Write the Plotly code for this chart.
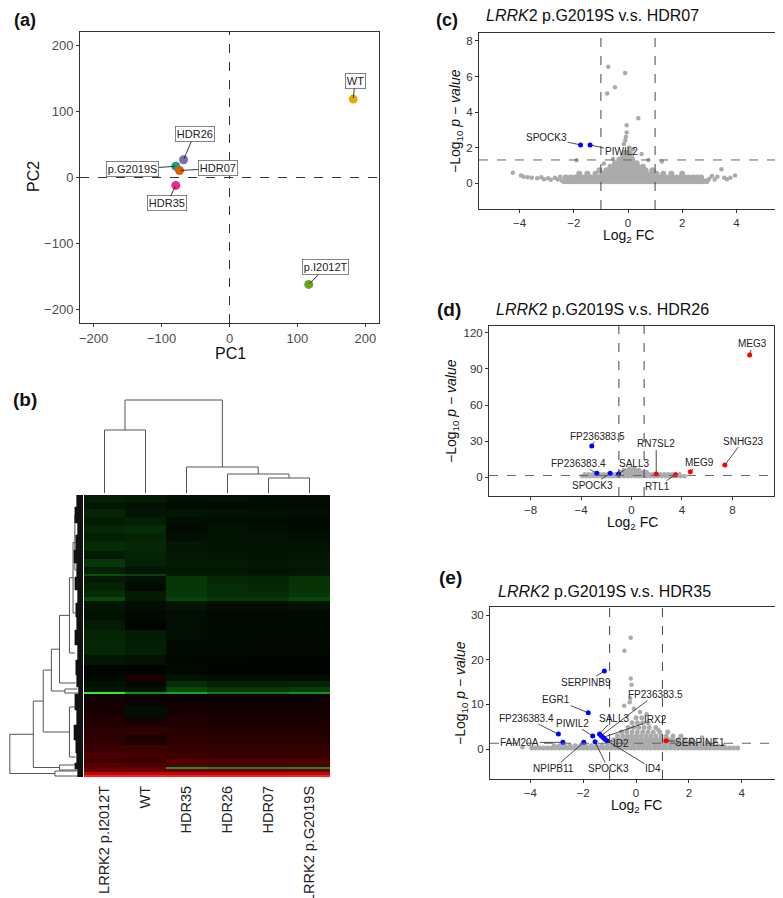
import math
import plotly.graph_objects as go

W, H = 783, 898
OFF = 8  # the page body margin shifts the figure; coordinates below are page pixels
FONT = "Liberation Sans, Arial, sans-serif"

# ---------------- (a) PCA data ----------------
pca_samples = ["p.G2019S", "HDR07", "HDR26", "HDR35", "WT", "p.I2012T"]
pca_pc1 = [-79, -73.5, -67.6, -79, 182, 116.6]
pca_pc2 = [17, 10.6, 26.8, -12, 118.6, -161.7]
pca_ticks = [-200, -100, 0, 100, 200]

# ---------------- (b) heatmap data ----------------
hm_samples = ["LRRK2 p.I2012T", "WT", "HDR35", "HDR26", "HDR07", "LRRK2 p.G2019S"]
hm_row_edges = [0, 8, 14, 22, 30, 38, 46, 56, 64, 72, 79, 81, 88, 96, 102, 106, 115, 125, 135, 145,
                160, 170, 180, 186, 192, 197, 199, 210, 222, 232, 240, 250, 258, 264, 268, 272, 274,
                277, 280, 282]
hm_I2012T = [-0.18, -0.12, -0.2, -0.15, -0.22, -0.18, -0.25, -0.15, -0.3, -0.18, -0.45, -0.15, -0.2,
             -0.25, -0.4, -0.12, -0.1, -0.15, -0.2, -0.22, -0.12, -0.03, -0.05, -0.1, -0.12, -0.95,
             0.08, 0.1, 0.15, 0.18, 0.2, 0.25, 0.32, 0.26, 0.38, 0.42, 0.48, 0.75, 1]
hm_WT = [-0.15, -0.1, -0.12, -0.18, -0.25, -0.2, -0.22, -0.2, -0.18, -0.12, -0.35, -0.1, -0.05,
         -0.15, -0.15, -0.08, -0.05, -0.02, -0.15, -0.18, -0.1, -0.02, 0.12, -0.05, -0.1, -0.7,
         0.05, -0.08, 0.1, 0.2, 0.12, 0.26, 0.3, 0.25, 0.34, 0.42, 0.48, 0.75, 1]
hm_HDR35 = [-0.1, -0.06, -0.12, -0.08, -0.06, -0.08, -0.12, -0.14, -0.15, -0.12, -0.15, -0.3, -0.3,
            -0.3, -0.38, -0.12, -0.08, -0.08, -0.08, -0.06, -0.04, -0.05, -0.1, -0.25, -0.4, -0.75,
            0.06, 0.1, 0.13, 0.17, 0.19, 0.23, 0.27, 0.38, 0.33, -0.72, 0.48, 0.75, 1]
hm_HDR26 = [-0.1, -0.05, -0.1, -0.08, -0.1, -0.1, -0.1, -0.12, -0.15, -0.12, -0.15, -0.22, -0.25,
            -0.25, -0.3, -0.08, -0.05, -0.06, -0.06, -0.06, -0.04, -0.03, -0.08, -0.18, -0.3, -0.65,
            0.06, 0.09, 0.12, 0.15, 0.17, 0.21, 0.25, 0.34, 0.31, -0.68, 0.48, 0.75, 1]
hm_HDR07 = [-0.08, -0.06, -0.1, -0.06, -0.08, -0.1, -0.1, -0.1, -0.12, -0.1, -0.15, -0.2, -0.22,
            -0.25, -0.3, -0.08, -0.05, -0.05, -0.05, -0.05, -0.03, -0.03, -0.08, -0.18, -0.3, -0.65,
            0.06, 0.09, 0.12, 0.15, 0.17, 0.21, 0.25, 0.34, 0.31, -0.68, 0.48, 0.75, 1]
hm_G2019S = [-0.08, -0.05, -0.08, -0.05, -0.06, -0.08, -0.1, -0.12, -0.14, -0.12, -0.15, -0.28, -0.28,
             -0.3, -0.4, -0.1, -0.06, -0.05, -0.05, -0.05, -0.03, -0.03, -0.08, -0.2, -0.35, -0.7,
             0.06, 0.09, 0.12, 0.15, 0.17, 0.21, 0.25, 0.34, 0.31, -0.7, 0.48, 0.75, 1]

# column dendrogram: node = (height, left, right); leaf = (column, 0)
col_tree = (93, (63, (0, 0), (1, 0)),
            (26, (2, 0), (19, (3, 0), (15, (4, 0), (5, 0)))))
# row dendrogram: node = (height, top, bottom); leaf group = (row position, height)
row_tree = (81,
            (55,
             (44,
              (35,
               (26, (15, (11, (9, (20, 7), (75, 7)), (118, 8)), (158, 9)), (188, 8)),
               (20, (194, 6), (198, 5))),
              (15, (212, 9), (262, 8))),
             (26, (270, 8), (275, 6))),
            (31, (276, 7), (281, 5)))
# dense leaf fringe: (first row, last row, height of the leaf sub-clusters)
row_leaf_groups = [(0, 12, 7), (12, 28, 9), (28, 40, 6), (40, 55, 8), (55, 68, 10), (68, 82, 7),
                   (82, 95, 9), (95, 108, 6), (108, 122, 8), (122, 135, 7), (135, 150, 9),
                   (150, 165, 6), (165, 180, 8), (180, 192, 7), (192, 199, 5), (199, 215, 9),
                   (215, 230, 7), (230, 245, 10), (245, 258, 8), (258, 268, 7), (268, 274, 9),
                   (274, 282, 6)]

# ---------------- volcano data ----------------
fc_cut = 1.0
p_cut = -math.log10(0.05)

# (c) p.G2019S vs HDR07
c_gray_rows = [
    (0.10, [-2.35, -2.2, -2.05, -1.9, -1.75, -1.6, -1.45, -1.3, -1.15, -1.0, -0.85, -0.7, -0.55, -0.4,
            -0.25, -0.1, 0.05, 0.2, 0.35, 0.5, 0.65, 0.8, 0.95, 1.1, 1.25, 1.4, 1.55, 1.7, 1.85, 2.0,
            2.15, 2.3, 2.45, 2.6, 2.75, 2.9]),
    (0.32, [-2.3, -2.12, -1.95, -1.8, -1.65, -1.5, -1.35, -1.2, -1.05, -0.9, -0.75, -0.6, -0.45, -0.3,
            -0.15, 0.0, 0.15, 0.3, 0.45, 0.6, 0.75, 0.9, 1.05, 1.2, 1.35, 1.5, 1.65, 1.8, 1.95, 2.1,
            2.25, 2.4, 2.55, 2.7]),
    (0.52, [-1.8, -1.5, -1.2, -0.95, -0.75, -0.55, -0.35, -0.15, 0.05, 0.25, 0.45, 0.65, 0.85, 1.05,
            1.3, 1.6, 2.0]),
    (0.72, [-1.05, -0.8, -0.6, -0.42, -0.25, -0.08, 0.1, 0.28, 0.45, 0.65, 0.9]),
    (0.92, [-0.65, -0.45, -0.28, -0.12, 0.04, 0.2, 0.36, 0.55]),
    (1.12, [-0.48, -0.3, -0.15, 0.0, 0.15, 0.32]),
    (1.32, [-0.32, -0.16, 0.0, 0.16]),
    (1.52, [-0.18, -0.02, 0.12]),
    (1.72, [-0.1, 0.06]),
]
c_gray_extra = [(-4.25, 0.58), (-3.95, 0.42), (-3.85, 0.36), (-3.7, 0.33), (-3.55, 0.3), (-3.35, 0.27),
                (-3.2, 0.33), (-3.1, 0.22), (-2.95, 0.27), (-2.85, 0.18), (-2.7, 0.3), (-2.6, 0.2),
                (-2.5, 0.35), (-2.45, 0.15), (3.0, 0.25), (3.1, 0.4), (3.2, 0.2), (3.3, 0.35),
                (3.45, 0.78), (3.55, 0.3), (3.65, 0.22), (3.78, 0.3), (3.95, 0.42), (-0.73, 6.55),
                (-0.11, 6.2), (-0.48, 5.4), (-0.77, 5.05), (0.38, 3.65), (-0.05, 3.25), (-0.05, 2.85),
                (-0.08, 2.6), (-0.1, 2.4), (-0.15, 2.2), (0.05, 2.0), (0.18, 1.9), (0.5, 1.63),
                (1.25, 1.22), (-1.9, 1.28), (-0.89, 1.1), (-0.55, 1.35), (0.75, 1.3)]
c_blue_genes = ["SPOCK3", "PIWIL2"]
c_blue_fc = [-1.75, -1.4]
c_blue_p = [2.15, 2.15]
c_red_genes, c_red_fc, c_red_p = [], [], []

# (d) p.G2019S vs HDR26
d_gray_rows = [
    (0.6, [-3.9, -3.6, -3.3, -3.0, -2.7, -2.4, -2.1, -1.8, -1.5, -1.2, -0.9, -0.6, -0.3, 0.0, 0.3,
           0.6, 0.9, 1.2, 1.5, 1.8, 2.1, 2.4, 2.7, 3.0, 3.3, 3.6, 3.9, 4.2]),
    (2.4, [-3.7, -3.4, -3.1, -2.8, -2.5, -2.2, -1.9, -1.6, -1.3, -1.0, -0.7, -0.4, -0.1, 0.2, 0.5,
           0.8, 1.1, 1.4, 1.7, 2.0, 2.3, 2.6, 2.9, 3.2, 3.5, 3.8]),
    (4.2, [-0.9, -0.6, -0.3, 0.0, 0.3, 0.6, 0.9, 1.2]),
    (5.8, [-0.6, -0.3, 0.0, 0.3, 0.6]),
    (7.4, [-0.15, 0.2]),
]
d_gray_extra = []
d_blue_genes = ["FP236383.5", "FP236383.4", "SPOCK3", "SALL3"]
d_blue_fc = [-3.15, -2.75, -1.69, -1.03]
d_blue_p = [25.8, 3.1, 3.1, 2.6]
d_red_genes = ["RN7SL2", "RTL1", "MEG9", "SNHG23", "MEG3"]
d_red_fc = [1.96, 3.49, 4.66, 7.4, 9.37]
d_red_p = [2.6, 2.0, 4.4, 10.0, 101.7]

# (e) p.G2019S vs HDR35
e_gray_rows = [
    (0.25, [-3.95, -3.8, -3.65, -3.5, -3.35, -3.2, -3.05, -2.9, -2.75, -2.6, -2.45, -2.3, -2.15, -2.0,
            -1.85, -1.7, -1.55, -1.4, -1.25, -1.1, -0.95, -0.8, -0.65, -0.5, -0.35, -0.2, -0.05, 0.1,
            0.25, 0.4, 0.55, 0.7, 0.85, 1.0, 1.15, 1.3, 1.45, 1.6, 1.75, 1.9, 2.05, 2.2, 2.35, 2.5,
            2.65, 2.8, 2.95, 3.1, 3.25, 3.4, 3.55, 3.7, 3.85]),
    (0.75, [-3.1, -2.9, -2.7, -2.5, -2.3, -2.1, -1.9, -1.7, -1.5, -1.3, -1.1, -0.9, -0.7, -0.5, -0.3,
            -0.1, 0.1, 0.3, 0.5, 0.7, 0.9, 1.1, 1.3, 1.5, 1.7, 1.9, 2.1, 2.3, 2.5, 2.7, 2.9, 3.1, 3.3]),
    (1.4, [-1.0, -0.85, -0.7, -0.55, -0.4, -0.25, -0.1, 0.05, 0.2, 0.35, 0.5, 0.65, 0.8, 0.95, 1.1,
           1.25, 1.4, 1.55, 1.7, 1.85, 2.0, 2.2, 2.45, 2.7]),
    (2.1, [-0.85, -0.7, -0.55, -0.4, -0.25, -0.1, 0.05, 0.2, 0.35, 0.5, 0.65, 0.8, 0.95, 1.1, 1.25,
           1.4, 1.6, 1.85, 2.1]),
    (2.9, [-0.7, -0.5, -0.32, -0.15, 0.02, 0.2, 0.38, 0.56, 0.75, 0.95, 1.15, 1.4, 1.7]),
    (3.8, [-0.55, -0.35, -0.15, 0.05, 0.25, 0.45, 0.65, 0.9, 1.2]),
    (4.8, [-0.3, -0.1, 0.1, 0.3, 0.5, 0.75]),
    (5.9, [-0.15, 0.05, 0.25, 0.45]),
    (7.0, [0.0, 0.22]),
]
e_gray_extra = [(-0.2, 24.9), (-0.44, 22.0), (-0.2, 15.8), (-0.17, 14.4), (-0.22, 11.3), (-0.24, 10.5),
                (-0.45, 9.7), (-0.08, 9.0), (0.15, 8.3), (0.4, 7.8), (0.85, 4.2), (2.5, 2.6),
                (3.0, 1.8), (-4.3, 0.4)]
e_blue_genes = ["SERPINB9", "EGR1", "FP236383.4", "PIWIL2", "FAM20A", "NPIPB11", "SPOCK3", "SALL3",
                "FP236383.5", "IRX2", "ID2", "ID4"]
e_blue_fc = [-1.2, -1.81, -2.94, -1.64, -2.77, -1.98, -1.55, -1.38, -1.32, -1.25, -1.18, -1.1]
e_blue_p = [17.45, 8.13, 3.35, 2.9, 1.5, 1.5, 1.63, 3.4, 3.0, 2.6, 2.2, 1.85]
e_red_genes = ["SERPINE1"]
e_red_fc = [1.14]
e_red_p = [1.86]

# ---------------- styling (label offsets in pixels) ----------------
pca_colors = {"p.G2019S": "#1B9E77", "HDR07": "#D95F02", "HDR26": "#7570B3",
              "HDR35": "#E7298A", "WT": "#E6AB02", "p.I2012T": "#66A61E"}
pca_offsets = {"WT": (2, -18), "HDR26": (11, -26), "p.G2019S": (-43, 3), "HDR07": (38, -2),
               "HDR35": (-9, 18), "p.I2012T": (17, -17)}
c_offsets = {"SPOCK3": (-34, -7), "PIWIL2": (31, 7)}
d_offsets = {"FP236383.5": (6, -10), "FP236383.4": (-18, -10), "SPOCK3": (-18, 12),
             "SALL3": (15, -10), "RN7SL2": (0, -30), "RTL1": (-18, 12), "MEG9": (9, -9),
             "SNHG23": (18, -24), "MEG3": (3, -11)}
e_offsets = {"SERPINB9": (-18, 11), "EGR1": (-32, -13), "FP236383.4": (-32, -16),
             "PIWIL2": (-20, -13), "FAM20A": (-43, 0), "NPIPB11": (-30, 26), "SPOCK3": (13, 27),
             "SALL3": (14, -15), "FP236383.5": (54, -41), "IRX2": (52, -18), "ID2": (16, 4),
             "ID4": (46, 28), "SERPINE1": (34, 2)}

GRAY = "#ABABAB"
LINE = "#333333"

fig = go.Figure()

# ---------------- (a) PCA ----------------
fig.add_trace(go.Scatter(
    x=pca_pc1, y=pca_pc2, mode="markers", xaxis="x", yaxis="y",
    marker=dict(size=9, color=[pca_colors[s] for s in pca_samples]),
    hovertext=pca_samples, showlegend=False))
for s, px_, py_ in zip(pca_samples, pca_pc1, pca_pc2):
    dx, dy = pca_offsets[s]
    fig.add_annotation(x=px_, y=py_, xref="x", yref="y", text=s, showarrow=True,
                       arrowhead=0, arrowwidth=0.9, arrowcolor="#222", ax=dx, ay=dy, standoff=1,
                       bgcolor="white", bordercolor="#666", borderwidth=0.8, borderpad=1,
                       font=dict(size=11, color="#222"))

# ---------------- (b) heatmap ----------------
hm_cols = [hm_I2012T, hm_WT, hm_HDR35, hm_HDR26, hm_HDR07, hm_G2019S]
z = [[col[i] for col in hm_cols] for i in range(len(hm_I2012T))]
fig.add_trace(go.Heatmap(
    z=z, x=list(range(len(hm_samples))), y=hm_row_edges, xaxis="x2", yaxis="y2",
    colorscale=[[0, "#33FF33"], [0.2, "#0D6B0D"], [0.5, "#000000"], [0.8, "#8B0000"],
                [1, "#FF2020"]],
    zmin=-1, zmax=1, showscale=False, xgap=0, ygap=0))


def dendro(tree, xs, ys, orient):
    if len(tree) == 2:
        return tree
    h, a, b = tree
    pa, ha = dendro(a, xs, ys, orient)
    pb, hb = dendro(b, xs, ys, orient)
    if orient == "top":
        xs += [pa, pa, pb, pb, None]
        ys += [ha, h, h, hb, None]
    else:
        xs += [ha, h, h, hb, None]
        ys += [pa, pa, pb, pb, None]
    return ((pa + pb) / 2, h)


cx, cy = [], []
dendro(col_tree, cx, cy, "top")
fig.add_trace(go.Scatter(x=cx, y=cy, mode="lines", xaxis="x3", yaxis="y3",
                         line=dict(color="#555", width=1), hoverinfo="skip", showlegend=False))
rx, ry = [], []
dendro(row_tree, rx, ry, "left")
fig.add_trace(go.Scatter(x=rx, y=ry, mode="lines", xaxis="x4", yaxis="y2",
                         line=dict(color="#555", width=1), hoverinfo="skip", showlegend=False))
# fringe of leaves: one closed outline with a jagged left edge
fx, fy = [0], [row_leaf_groups[0][0]]
for y0, y1, h in row_leaf_groups:
    fx += [h, h]
    fy += [y0, y1]
fx += [0, 0]
fy += [row_leaf_groups[-1][1], row_leaf_groups[0][0]]
fig.add_trace(go.Scatter(x=fx, y=fy, mode="lines", fill="toself", fillcolor="#111",
                         xaxis="x4", yaxis="y2", line=dict(color="#111", width=0.5),
                         hoverinfo="skip", showlegend=False))


# ---------------- volcano panels ----------------
def expand(rows):
    xs, ys = [], []
    for yv, xl in rows:
        for xv in xl:
            xs.append(xv)
            ys.append(yv)
    return xs, ys


def volcano(ax, ay, rows, extra, bg, bfc, bp, rg, rfc, rp, offsets, band_size):
    gx, gy = expand(rows)
    fig.add_trace(go.Scatter(x=gx, y=gy, mode="markers", xaxis=ax, yaxis=ay,
                             marker=dict(size=band_size, color=GRAY), hoverinfo="skip",
                             showlegend=False))
    if extra:
        fig.add_trace(go.Scatter(x=[e[0] for e in extra], y=[e[1] for e in extra], mode="markers",
                                 xaxis=ax, yaxis=ay, marker=dict(size=4.5, color=GRAY),
                                 hoverinfo="skip", showlegend=False))
    if bg:
        fig.add_trace(go.Scatter(x=bfc, y=bp, mode="markers", xaxis=ax, yaxis=ay,
                                 marker=dict(size=5, color="#0000FF"), hovertext=bg,
                                 showlegend=False))
    if rg:
        fig.add_trace(go.Scatter(x=rfc, y=rp, mode="markers", xaxis=ax, yaxis=ay,
                                 marker=dict(size=5, color="#FF0000"), hovertext=rg,
                                 showlegend=False))
    for g, xv, yv in list(zip(bg, bfc, bp)) + list(zip(rg, rfc, rp)):
        dx, dy = offsets[g]
        fig.add_annotation(x=xv, y=yv, xref=ax, yref=ay, text=g, showarrow=True, arrowhead=0,
                           arrowwidth=0.8, arrowcolor="#222", ax=dx, ay=dy, standoff=2,
                           font=dict(size=10, color="#222"), borderpad=0)
    axn = ax[1:]
    ayn = ay[1:]
    for v in (-fc_cut, fc_cut):
        fig.add_shape(type="line", xref=ax, yref=f"y{ayn} domain", x0=v, x1=v, y0=0, y1=1,
                      line=dict(color="#444", width=1, dash="dash"))
    fig.add_shape(type="line", xref=f"x{axn} domain", yref=ay, x0=0, x1=1, y0=p_cut, y1=p_cut,
                  line=dict(color="#666", width=1, dash="dash"))


volcano("x5", "y5", c_gray_rows, c_gray_extra, c_blue_genes, c_blue_fc, c_blue_p,
        c_red_genes, c_red_fc, c_red_p, c_offsets, 6)
volcano("x6", "y6", d_gray_rows, d_gray_extra, d_blue_genes, d_blue_fc, d_blue_p,
        d_red_genes, d_red_fc, d_red_p, d_offsets, 4.5)
volcano("x7", "y7", e_gray_rows, e_gray_extra, e_blue_genes, e_blue_fc, e_blue_p,
        e_red_genes, e_red_fc, e_red_p, e_offsets, 5)

# PCA reference lines
fig.add_shape(type="line", xref="x", yref="y domain", x0=0, x1=0, y0=0, y1=1,
              line=dict(color="#333", width=1, dash="dash"))
fig.add_shape(type="line", xref="x domain", yref="y", x0=0, x1=1, y0=0, y1=0,
              line=dict(color="#333", width=1, dash="dash"))

# ---------------- axes ----------------
box = dict(showgrid=False, zeroline=False, showline=True, mirror=True, linecolor=LINE,
           linewidth=1, ticks="outside", ticklen=3, tickcolor=LINE, tickwidth=1)
tf_pca = dict(size=13, color="#4d4d4d")
tf_v = dict(size=11.5, color="#333")


def dom_x(a, b):
    return [max(0.0, (a - OFF) / W), (b - OFF) / W]


def dom_y(top, bottom):
    return [1 - (bottom - OFF) / H, 1 - (top - OFF) / H]


fig.update_layout(
    xaxis=dict(domain=dom_x(80, 379), range=[-220, 220], tickvals=pca_ticks, tickfont=tf_pca,
               anchor="y", **box),
    yaxis=dict(domain=dom_y(32, 323), range=[-220, 220], tickvals=pca_ticks, tickfont=tf_pca,
               anchor="x", **box),
    xaxis2=dict(domain=dom_x(84, 330), range=[-0.5, 5.5], tickvals=list(range(6)),
                ticktext=hm_samples, tickangle=-90, ticks="", showline=False, showgrid=False,
                zeroline=False, tickfont=dict(size=14.5, color="#222"), anchor="y2",
                ticklabelstandoff=5),
    yaxis2=dict(domain=dom_y(495, 777), range=[282, 0], visible=False, anchor="x2"),
    xaxis3=dict(domain=dom_x(84, 330), range=[-0.5, 5.5], visible=False, anchor="y3"),
    yaxis3=dict(domain=dom_y(398, 493), range=[0, 95], visible=False, anchor="x3"),
    xaxis4=dict(domain=dom_x(0, 83), range=[83, 0], visible=False, anchor="y2"),
    xaxis5=dict(domain=dom_x(479, 777), range=[-5.5, 5.5], tickvals=[-4, -2, 0, 2, 4],
                tickfont=tf_v, anchor="y5", **box),
    yaxis5=dict(domain=dom_y(33, 209), range=[-1.46, 8.45], tickvals=[0, 2, 4, 6, 8],
                tickfont=tf_v, anchor="x5", **box),
    xaxis6=dict(domain=dom_x(489, 774), range=[-11.3, 11.3], tickvals=[-8, -4, 0, 4, 8],
                tickfont=tf_v, anchor="y6", **box),
    yaxis6=dict(domain=dom_y(326, 496), range=[-15.8, 125.8], tickvals=[0, 30, 60, 90, 120],
                tickfont=tf_v, anchor="x6", **box),
    xaxis7=dict(domain=dom_x(490, 781), range=[-5.53, 5.49], tickvals=[-4, -2, 0, 2, 4],
                tickfont=tf_v, anchor="y7", **box),
    yaxis7=dict(domain=dom_y(607, 779), range=[-6.7, 31.8], tickvals=[0, 10, 20, 30],
                tickfont=tf_v, anchor="x7", **box),
    width=W, height=H, margin=dict(l=0, r=0, t=0, b=0), autosize=False,
    paper_bgcolor="white", plot_bgcolor="white", showlegend=False,
    font=dict(family=FONT, color="#222"),
)


def txt(text, px_, py_, size, angle=0, bold=False, yanchor="middle"):
    fig.add_annotation(text=f"<b>{text}</b>" if bold else text, x=(px_ - OFF) / W,
                       y=1 - (py_ - OFF) / H, xref="paper", yref="paper", showarrow=False,
                       textangle=angle, xanchor="center", yanchor=yanchor,
                       font=dict(size=size, color="#111"))


# panel letters
txt("(a)", 25, 8, 18, bold=True, yanchor="top")
txt("(b)", 25, 399, 19, bold=True)
txt("(c)", 447, 8, 18, bold=True, yanchor="top")
txt("(d)", 449, 309, 19, bold=True)
txt("(e)", 450, 577, 19, bold=True)

# axis titles
txt("PC1", 230, 353, 16)
txt("PC2", 33, 177, 16, angle=-90)
ytitle = "\u2212Log<sub>10</sub> <i>p \u2212 value</i>"
xtitle = "Log<sub>2</sub> FC"
txt(xtitle, 628, 236, 14)
txt(ytitle, 456, 121, 14, angle=-90)
txt(xtitle, 632, 523, 14)
txt(ytitle, 452, 411, 14, angle=-90)
txt(xtitle, 636, 806, 14)
txt(ytitle, 461, 693, 14, angle=-90)

# volcano titles
txt("<i>LRRK</i>2 p.G2019S v.s. HDR07", 592, 16, 16)
txt("<i>LRRK</i>2 p.G2019S v.s. HDR26", 602, 309, 16)
txt("<i>LRRK</i>2 p.G2019S v.s. HDR35", 604, 591, 16)

fig.write_html("out.html")
